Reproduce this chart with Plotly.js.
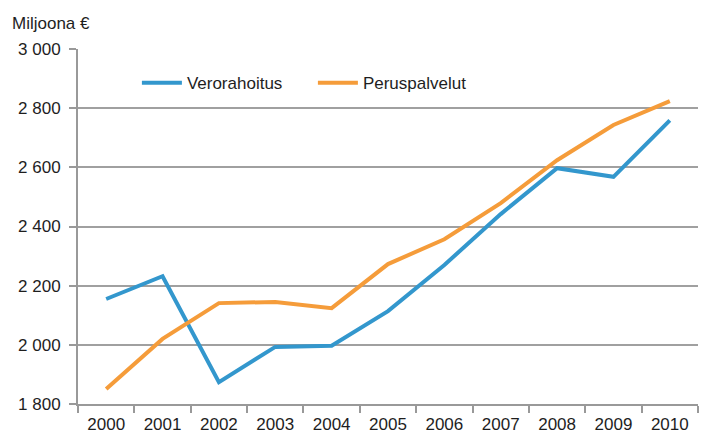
<!DOCTYPE html>
<html>
<head>
<meta charset="utf-8">
<script src="https://cdn.plot.ly/plotly-3.0.1.min.js"></script>
<style>html,body{margin:0;padding:0;background:#fff;}#chart{width:701px;height:434px;}</style>
</head>
<body>
<div id="chart"></div>
<script>
const years = ["2000","2001","2002","2003","2004","2005","2006","2007","2008","2009","2010"];
const verorahoitus = [2155, 2232, 1874, 1993, 1997, 2114, 2270, 2442, 2597, 2568, 2759];
const peruspalvelut = [1851, 2020, 2141, 2145, 2124, 2273, 2357, 2479, 2624, 2743, 2824];
const yTicks = [1800, 2000, 2200, 2400, 2600, 2800, 3000];

const font = {family: "Liberation Sans, Arial, sans-serif", size: 17, color: "#1e1e1e"};
const data = [
  {x: years, y: verorahoitus, name: "Verorahoitus", type: "scatter", mode: "lines",
   line: {color: "#3397cd", width: 4}},
  {x: years, y: peruspalvelut, name: "Peruspalvelut", type: "scatter", mode: "lines",
   line: {color: "#f59c3a", width: 4}}
];
const layout = {
  width: 701, height: 434,
  margin: {l: 78, r: 3, t: 49, b: 30},
  paper_bgcolor: "#fff", plot_bgcolor: "#fff",
  font: font,
  separators: ", ",
  showlegend: true,
  legend: {orientation: "h", x: 0.095, y: 0.904, xanchor: "left", yanchor: "middle",
           bgcolor: "rgba(0,0,0,0)", font: font, entrywidth: 121, itemwidth: 40},
  xaxis: {type: "category", range: [-0.5, 10.5], tickson: "boundaries", ticks: "outside", ticklen: 7,
          tickcolor: "#999", tickwidth: 2, showgrid: false, showline: true,
          linecolor: "#999", linewidth: 2, tickfont: font, fixedrange: true, ticklabelstandoff: 4},
  yaxis: {range: [1800, 3000], tickvals: yTicks, tickformat: ",d", ticks: "outside",
          ticklen: 7, tickcolor: "#999", tickwidth: 2, showgrid: true, gridcolor: "#a0a0a0",
          gridwidth: 2, showline: true, linecolor: "#999", linewidth: 2, zeroline: false,
          tickfont: font, fixedrange: true, ticklabelstandoff: 5},
  annotations: [{text: "Miljoona €", xref: "paper", yref: "paper", x: -0.11, y: 1.0,
                 xanchor: "left", yanchor: "bottom", yshift: 14, showarrow: false, font: font}]
};
Plotly.newPlot("chart", data, layout, {displayModeBar: false, staticPlot: true});
</script>
</body>
</html>
